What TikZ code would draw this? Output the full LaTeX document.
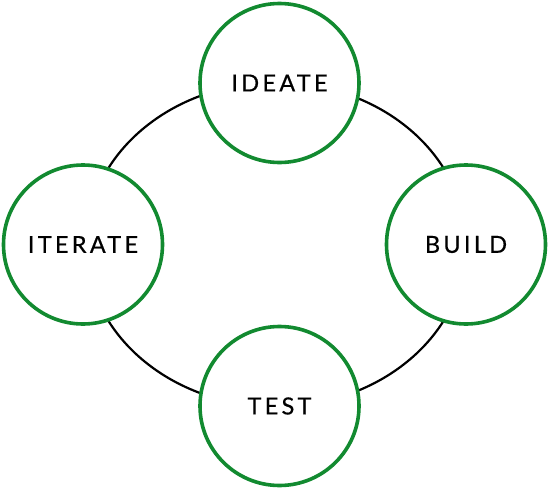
\documentclass[tikz,border=0pt]{standalone}
\usepackage{fontspec}
\setmainfont{Lato}[LetterSpace=14, FakeBold=0.6]
\definecolor{stagegreen}{RGB}{18,138,48}
\begin{document}
\begin{tikzpicture}[x=1pt,y=-1pt,
  stage/.style={circle, draw=stagegreen, line width=3.6pt, fill=white,
    minimum size=159pt, inner sep=0pt, font=\fontsize{23.5}{27}\selectfont},
  loop/.style={draw=black, line width=2.2pt}]
\useasboundingbox (0,0) rectangle (550,490);
\coordinate (mid) at (276,244.5);
\draw[loop] (mid) ellipse [x radius=190, y radius=162];
\node[stage] (ideate) at (279.5,83) {IDEATE};
\node[stage] (build) at (466,244.5) {BUILD};
\node[stage] (test) at (279.5,406) {TEST};
\node[stage] (iterate) at (83,244.5) {ITERATE};
\end{tikzpicture}
\end{document}
